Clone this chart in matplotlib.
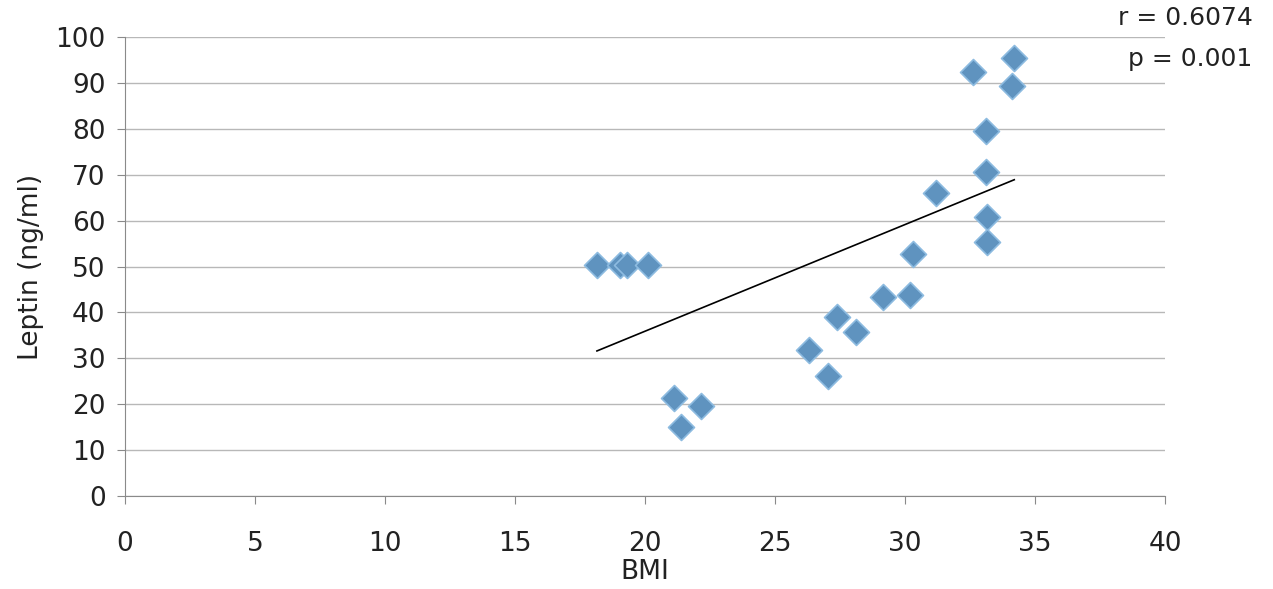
import numpy as np
import matplotlib.pyplot as plt

# BMI vs leptin
bmi = [18.15, 19.05, 19.3, 20.1, 21.1, 21.4, 22.15, 26.3, 27.05, 27.4, 28.1,
       29.15, 30.2, 30.3, 31.2, 32.6, 33.1, 33.1, 33.15, 33.15, 34.1, 34.2]
leptin = [50.3, 50.3, 50.3, 50.3, 21.4, 15.0, 19.6, 31.8, 26.1, 39.0, 35.7,
          43.4, 43.8, 52.7, 66.0, 92.4, 79.5, 70.6, 60.8, 55.3, 89.3, 95.4]
# trend line as printed in the figure (slope, intercept)
trend_slope = 2.325
trend_intercept = -10.6
stats = ["r = 0.6074", "p = 0.001"]

plt.rcParams['font.family'] = ['DejaVu Sans']

fig = plt.figure(figsize=(12.73, 5.89), dpi=100)
ax = fig.add_axes([0.0982, 0.158, 0.817, 0.779])

ax.scatter(bmi, leptin, marker='D', s=175, color='#5f93bf',
           edgecolors='#8dbbe0', linewidths=1.2, zorder=3)

xs = np.array([min(bmi), max(bmi)])
ax.plot(xs, trend_slope * xs + trend_intercept, color='black', lw=1.2, zorder=4)

ax.set_xlim(0, 40)
ax.set_ylim(0, 100)
ax.set_xticks(range(0, 41, 5))
ax.set_yticks(range(0, 101, 10))
ax.grid(axis='y', color='#b8b8b8', lw=1)
ax.set_axisbelow(True)
for s in ['top', 'right']:
    ax.spines[s].set_visible(False)
for s in ['left', 'bottom']:
    ax.spines[s].set_color('#8a8a8a')
ax.tick_params(labelsize=19, color='#8a8a8a', length=6, colors='#222222')
ax.tick_params(axis='x', pad=19)
ax.tick_params(axis='y', pad=8)
ax.set_xlabel("BMI", fontsize=19, color='#222222', labelpad=2)
ax.set_ylabel("Leptin (ng/ml)", fontsize=19, color='#222222', labelpad=8)

fig.text(0.984, 0.969, stats[0], ha='right', va='center', fontsize=18, color='#222222')
fig.text(0.984, 0.900, stats[1], ha='right', va='center', fontsize=18, color='#222222')

fig.savefig("out.png", dpi=100)
